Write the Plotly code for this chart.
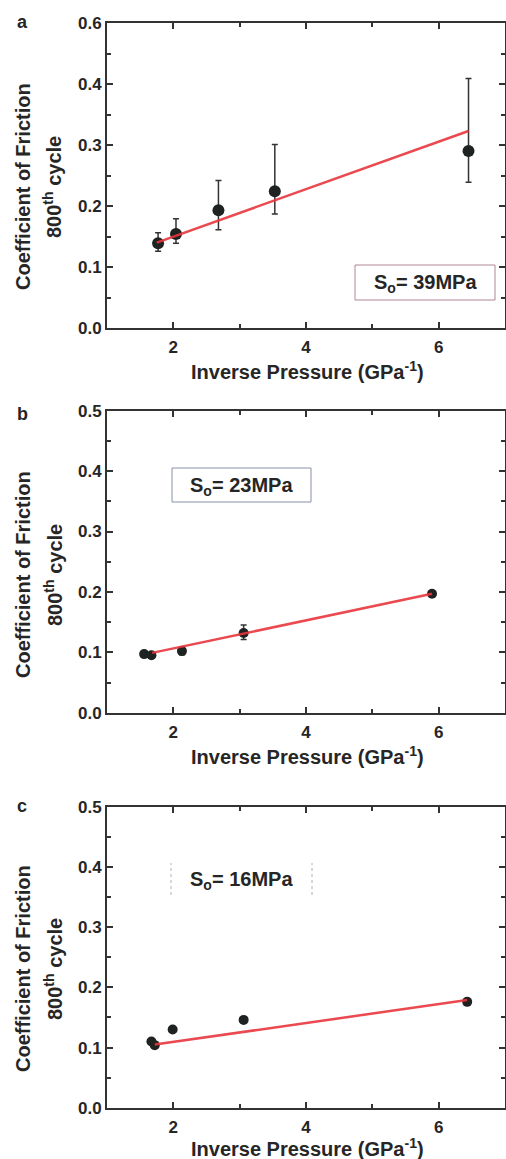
import plotly.graph_objects as go

# ---- data ----
a_x = [1.77, 2.04, 2.68, 3.53, 6.45]
a_y = [0.139, 0.154, 0.193, 0.224, 0.290]
a_err_plus = [0.017, 0.025, 0.049, 0.077, 0.119]
a_err_minus = [0.013, 0.015, 0.032, 0.037, 0.051]
a_fit_x = [1.75, 6.45]
a_fit_y = [0.140, 0.323]

b_x = [1.56, 1.67, 2.13, 3.06, 5.90]
b_y = [0.097, 0.095, 0.102, 0.132, 0.197]
b_err_plus = [0.003, 0.003, 0.006, 0.013, 0.003]
b_err_minus = [0.003, 0.003, 0.006, 0.011, 0.003]
b_fit_x = [1.68, 5.90]
b_fit_y = [0.099, 0.197]

c_x = [1.67, 1.72, 1.99, 3.06, 6.43]
c_y = [0.110, 0.104, 0.130, 0.146, 0.176]
c_fit_x = [1.72, 6.43]
c_fit_y = [0.105, 0.179]

x_ticks = [2, 4, 6]
y_ticks = [0.0, 0.1, 0.2, 0.3, 0.4, 0.5]
y_ticktext_a = ["0.0", "0.1", "0.2", "0.3", "0.4", "0.6"]
y_ticktext_bc = ["0.0", "0.1", "0.2", "0.3", "0.4", "0.5"]
labels_so = ["39MPa", "23MPa", "16MPa"]
panel_letters = ["a", "b", "c"]

W, H = 506, 1159
L, R = 107, 505
FONT = "Liberation Sans, Arial, sans-serif"
INK = "#262626"
RED = "#e8363c"


def px(x):
    return (x - L) / (R - L)


def py(y):
    return 1 - y / H


fig = go.Figure()

panels = [
    (a_x, a_y, a_err_plus, a_err_minus, a_fit_x, a_fit_y, 12),
    (b_x, b_y, b_err_plus, b_err_minus, b_fit_x, b_fit_y, 10),
    (c_x, c_y, None, None, c_fit_x, c_fit_y, 10),
]
# plot box top/bottom in px
boxes = [(23, 328), (410.7, 712.7), (807, 1107.7)]

for i, (xs, ys, ep, em, fx, fy, ms) in enumerate(panels):
    ax = "" if i == 0 else str(i + 1)
    err = None
    if ep is not None:
        err = dict(type="data", symmetric=False, array=ep, arrayminus=em,
                   color="#333333", thickness=1.5, width=3)
    fig.add_trace(go.Scatter(
        x=xs, y=ys, mode="markers", xaxis="x" + ax, yaxis="y" + ax,
        marker=dict(size=ms, color="#1e2220"), error_y=err, showlegend=False))
    fig.add_trace(go.Scatter(
        x=fx, y=fy, mode="lines", xaxis="x" + ax, yaxis="y" + ax,
        line=dict(color=RED, width=2.5), opacity=0.9, showlegend=False))

axis_common = dict(
    showline=True, linecolor="#333333", linewidth=2, mirror="ticks",
    ticks="inside", ticklen=6, tickwidth=2, tickcolor="#333333",
    showgrid=False, zeroline=False, automargin=False,
    tickfont=dict(family=FONT, size=17, color=INK, weight="bold"),
)

layout = dict(
    width=W, height=H, margin=dict(l=L, r=W - R, t=0, b=0),
    paper_bgcolor="white", plot_bgcolor="white",
)
for i, (top, bot) in enumerate(boxes):
    ax = "" if i == 0 else str(i + 1)
    layout["xaxis" + ax] = dict(
        axis_common, range=[1, 7], tickvals=x_ticks, anchor="y" + ax,
        ticklabelstandoff=3,
        minor=dict(dtick=1, tick0=1, ticks="inside", ticklen=4, tickwidth=1.5,
                   tickcolor="#333333"),
        domain=[0, 1])
    layout["yaxis" + ax] = dict(
        axis_common, range=[0, 0.5], tickvals=y_ticks,
        ticktext=y_ticktext_a if i == 0 else y_ticktext_bc,
        anchor="x" + ax, domain=[py(bot), py(top)],
        minor=dict(dtick=0.05, tick0=0, ticks="inside", ticklen=4, tickwidth=1.5,
                   tickcolor="#333333"))
fig.update_layout(**layout)

ann = []
shapes = []
ytitle_centers = [187, 575, 969]
xtitle_y = [370, 755, 1147]
letter_y = [22, 414, 806]
so_boxes = [(355, 265, 495, 300, "#b08890"), (172, 468, 311, 502, "#8890a8"),
            (171, 863, 312, 895, "#b0b0b0")]


def add_text(text, x, y, size, angle=0):
    ann.append(dict(text=text, x=px(x), y=py(y), xref="paper", yref="paper",
                    xanchor="center", yanchor="middle", showarrow=False,
                    textangle=angle,
                    font=dict(family=FONT, size=size, color=INK, weight="bold")))


for i in range(3):
    add_text("Coefficient of Friction", 23, ytitle_centers[i], 20, -90)
    add_text("800<sup>th</sup> cycle", 53, ytitle_centers[i], 20, -90)
    add_text("Inverse Pressure (GPa<sup>-1</sup>)", 307, xtitle_y[i], 20)
    add_text(panel_letters[i], 22, letter_y[i], 18)
    x0, y0, x1, y1, bc = so_boxes[i]
    add_text("S<sub>o</sub>= " + labels_so[i], (x0 + x1) / 2, (y0 + y1) / 2 + 1, 20)
    if i < 2:
        shapes.append(dict(type="rect", xref="paper", yref="paper",
                           x0=px(x0), x1=px(x1), y0=py(y1), y1=py(y0),
                           line=dict(color=bc, width=1)))
    else:
        for xx in (x0, x1):
            shapes.append(dict(type="line", xref="paper", yref="paper",
                               x0=px(xx), x1=px(xx), y0=py(y1), y1=py(y0),
                               line=dict(color=bc, width=1, dash="dot")))
fig.update_layout(annotations=ann, shapes=shapes)

fig.write_html("out.html")
